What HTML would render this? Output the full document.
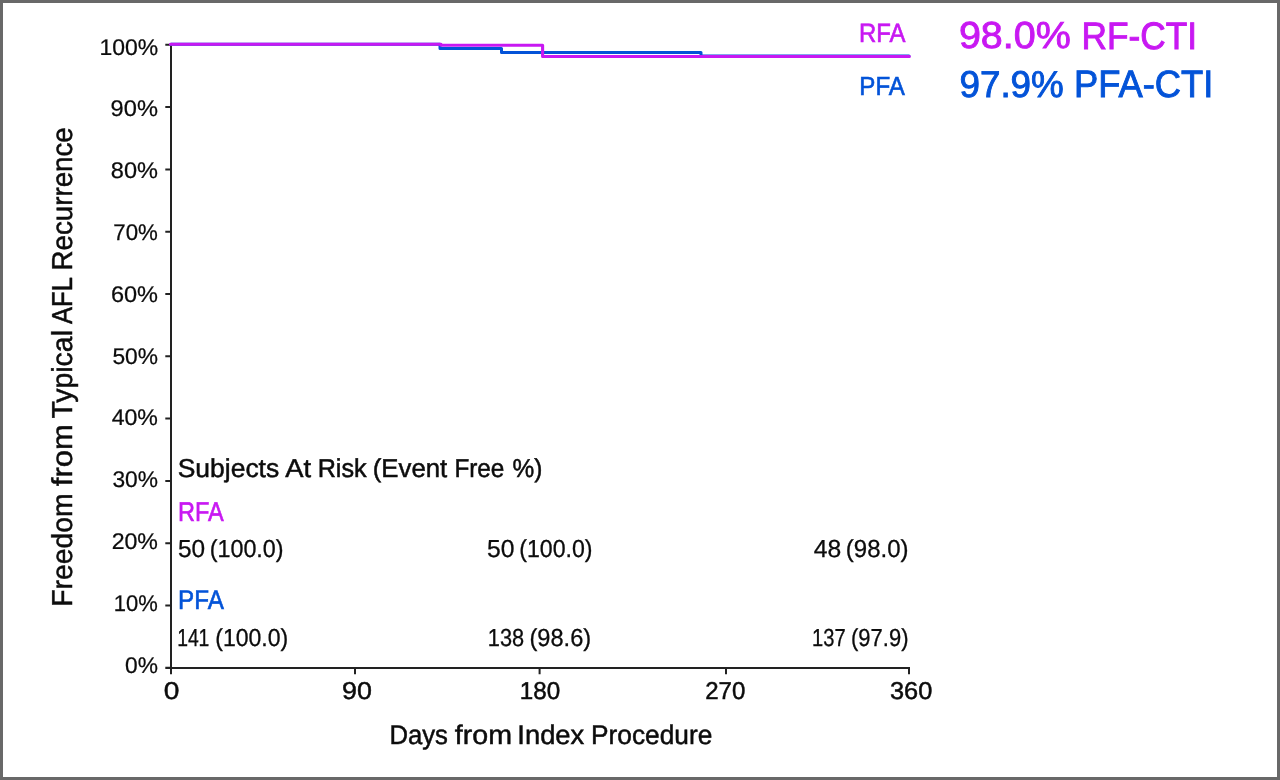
<!DOCTYPE html>
<html><head><meta charset="utf-8"><title>Freedom from Typical AFL Recurrence</title>
<style>
html,body{margin:0;padding:0;background:#fff;}
body{width:1280px;height:780px;overflow:hidden;position:relative;font-family:"Liberation Sans", sans-serif;}
.frame{position:absolute;left:0;top:0;width:1274px;height:774px;border:3px solid #686868;background:#fff;}
svg{position:absolute;left:0;top:0;will-change:transform;}
</style></head><body>
<div class="frame"></div>
<svg width="1280" height="780" viewBox="0 0 1280 780" font-family="Liberation Sans" font-size="100" text-rendering="geometricPrecision">
<path d="M171 43.5V674.2M165.3 668H909V674.2M165.3 44.80H171M165.3 107.10H171M165.3 169.40H171M165.3 231.70H171M165.3 294.00H171M165.3 356.30H171M165.3 418.60H171M165.3 480.90H171M165.3 543.20H171M165.3 605.50H171M165.3 667.80H171M171.00 668V674.2M355.00 668V674.2M539.60 668V674.2M726.00 668V674.2" fill="none" stroke="#222222" stroke-width="2"/>
<path d="M171 44.2H440V48.6H501.5V52.4H701V56.1H909" fill="none" stroke="#0353D8" stroke-width="3.0" stroke-linejoin="round" stroke-linecap="round"/>
<path d="M170.5 44.2H441V45.2H542.6V56.5H909.3" fill="none" stroke="#C818F2" stroke-width="3.1" stroke-linejoin="round" stroke-linecap="round"/>
<text transform="translate(99.42 54.67) scale(0.2293 0.2268)" fill="#0c0c0c" stroke="#0c0c0c" stroke-width="1.10">100%</text>
<text transform="translate(110.62 116.47) scale(0.2365 0.2268)" fill="#0c0c0c" stroke="#0c0c0c" stroke-width="1.08">90%</text>
<text transform="translate(110.86 178.27) scale(0.2352 0.2268)" fill="#0c0c0c" stroke="#0c0c0c" stroke-width="1.08">80%</text>
<text transform="translate(113.29 240.07) scale(0.2229 0.2268)" fill="#0c0c0c" stroke="#0c0c0c" stroke-width="1.11">70%</text>
<text transform="translate(110.93 301.87) scale(0.2349 0.2268)" fill="#0c0c0c" stroke="#0c0c0c" stroke-width="1.08">60%</text>
<text transform="translate(112.39 363.67) scale(0.2275 0.2268)" fill="#0c0c0c" stroke="#0c0c0c" stroke-width="1.10">50%</text>
<text transform="translate(111.64 425.47) scale(0.2313 0.2268)" fill="#0c0c0c" stroke="#0c0c0c" stroke-width="1.09">40%</text>
<text transform="translate(112.39 487.27) scale(0.2275 0.2268)" fill="#0c0c0c" stroke="#0c0c0c" stroke-width="1.10">30%</text>
<text transform="translate(111.64 549.07) scale(0.2312 0.2268)" fill="#0c0c0c" stroke="#0c0c0c" stroke-width="1.09">20%</text>
<text transform="translate(113.84 610.87) scale(0.2201 0.2268)" fill="#0c0c0c" stroke="#0c0c0c" stroke-width="1.12">10%</text>
<text transform="translate(125.09 672.67) scale(0.2277 0.2268)" fill="#0c0c0c" stroke="#0c0c0c" stroke-width="1.10">0%</text>
<text transform="translate(163.68 699.16) scale(0.2812 0.2437)" fill="#0c0c0c" stroke="#0c0c0c" stroke-width="1.91">0</text>
<text transform="translate(342.06 699.16) scale(0.2686 0.2437)" fill="#0c0c0c" stroke="#0c0c0c" stroke-width="1.95">90</text>
<text transform="translate(519.86 699.16) scale(0.2419 0.2437)" fill="#0c0c0c" stroke="#0c0c0c" stroke-width="2.06">180</text>
<text transform="translate(705.20 699.16) scale(0.2399 0.2437)" fill="#0c0c0c" stroke="#0c0c0c" stroke-width="2.07">270</text>
<text transform="translate(889.98 699.16) scale(0.2541 0.2437)" fill="#0c0c0c" stroke="#0c0c0c" stroke-width="2.01">360</text>
<text transform="translate(389.45 743.75) scale(0.2565 0.2698)" fill="#0c0c0c" stroke="#0c0c0c" stroke-width="1.90">Days</text>
<text transform="translate(454.71 743.75) scale(0.2865 0.2698)" fill="#0c0c0c" stroke="#0c0c0c" stroke-width="1.80">from</text>
<text transform="translate(517.34 743.75) scale(0.2733 0.2698)" fill="#0c0c0c" stroke="#0c0c0c" stroke-width="1.84">Index</text>
<text transform="translate(590.99 743.75) scale(0.2631 0.2698)" fill="#0c0c0c" stroke="#0c0c0c" stroke-width="1.88">Procedure</text>
<text transform="translate(177.68 476.60) scale(0.2647 0.2590)" fill="#0c0c0c" stroke="#0c0c0c" stroke-width="1.91">Subjects</text>
<text transform="translate(285.30 476.60) scale(0.2734 0.2590)" fill="#0c0c0c" stroke="#0c0c0c" stroke-width="1.88">At</text>
<text transform="translate(317.69 476.60) scale(0.2516 0.2590)" fill="#0c0c0c" stroke="#0c0c0c" stroke-width="1.96">Risk</text>
<text transform="translate(372.75 476.60) scale(0.2578 0.2590)" fill="#0c0c0c" stroke="#0c0c0c" stroke-width="1.94">(Event</text>
<text transform="translate(454.46 476.60) scale(0.2427 0.2590)" fill="#0c0c0c" stroke="#0c0c0c" stroke-width="1.99">Free</text>
<text transform="translate(512.42 476.60) scale(0.2442 0.2590)" fill="#0c0c0c" stroke="#0c0c0c" stroke-width="1.99">%)</text>
<text transform="translate(177.92 521.10) scale(0.2355 0.2705)" fill="#C818F2" stroke="#C818F2" stroke-width="2.37">RFA</text>
<text transform="translate(178.06 609.00) scale(0.2420 0.2691)" fill="#0353D8" stroke="#0353D8" stroke-width="2.35">PFA</text>
<text transform="translate(177.93 557.15) scale(0.2437 0.2465)" fill="#0c0c0c" stroke="#0c0c0c" stroke-width="1.22">50</text>
<text transform="translate(209.70 557.15) scale(0.2331 0.2465)" fill="#0c0c0c" stroke="#0c0c0c" stroke-width="1.25">(100.0)</text>
<text transform="translate(487.11 557.15) scale(0.2466 0.2465)" fill="#0c0c0c" stroke="#0c0c0c" stroke-width="1.22">50</text>
<text transform="translate(519.21 557.15) scale(0.2315 0.2465)" fill="#0c0c0c" stroke="#0c0c0c" stroke-width="1.26">(100.0)</text>
<text transform="translate(813.71 557.15) scale(0.2467 0.2465)" fill="#0c0c0c" stroke="#0c0c0c" stroke-width="1.22">48</text>
<text transform="translate(845.76 557.15) scale(0.2406 0.2465)" fill="#0c0c0c" stroke="#0c0c0c" stroke-width="1.23">(98.0)</text>
<text transform="translate(177.16 645.95) scale(0.1929 0.2465)" fill="#0c0c0c" stroke="#0c0c0c" stroke-width="1.37">141</text>
<text transform="translate(215.22 645.95) scale(0.2302 0.2465)" fill="#0c0c0c" stroke="#0c0c0c" stroke-width="1.26">(100.0)</text>
<text transform="translate(487.85 645.95) scale(0.2182 0.2465)" fill="#0c0c0c" stroke="#0c0c0c" stroke-width="1.29">138</text>
<text transform="translate(529.38 645.95) scale(0.2365 0.2465)" fill="#0c0c0c" stroke="#0c0c0c" stroke-width="1.24">(98.6)</text>
<text transform="translate(812.09 645.95) scale(0.2013 0.2465)" fill="#0c0c0c" stroke="#0c0c0c" stroke-width="1.34">137</text>
<text transform="translate(850.98 645.95) scale(0.2201 0.2465)" fill="#0c0c0c" stroke="#0c0c0c" stroke-width="1.29">(97.9)</text>
<text transform="translate(858.99 41.80) scale(0.2392 0.2633)" fill="#C818F2" stroke="#C818F2" stroke-width="2.39">RFA</text>
<text transform="translate(859.37 94.90) scale(0.2409 0.2619)" fill="#0353D8" stroke="#0353D8" stroke-width="2.39">PFA</text>
<text transform="translate(958.93 48.43) scale(0.3945 0.3746)" fill="#C818F2" stroke="#C818F2" stroke-width="2.34">98.0%</text>
<text transform="translate(1081.58 48.80) scale(0.3527 0.3827)" fill="#C818F2" stroke="#C818F2" stroke-width="2.45">RF-CTI</text>
<text transform="translate(959.46 97.03) scale(0.3680 0.3732)" fill="#0353D8" stroke="#0353D8" stroke-width="2.43">97.9%</text>
<text transform="translate(1073.99 97.40) scale(0.3634 0.3813)" fill="#0353D8" stroke="#0353D8" stroke-width="2.42">PFA-CTI</text>
<text transform="translate(71.90 606.87) rotate(-90) scale(0.2834 0.2878)" fill="#0c0c0c" stroke="#0c0c0c" stroke-width="1.75">Freedom</text>
<text transform="translate(71.90 486.21) rotate(-90) scale(0.3104 0.2878)" fill="#0c0c0c" stroke="#0c0c0c" stroke-width="1.67">from</text>
<text transform="translate(71.90 418.57) rotate(-90) scale(0.2845 0.2878)" fill="#0c0c0c" stroke="#0c0c0c" stroke-width="1.75">Typical</text>
<text transform="translate(71.90 324.10) rotate(-90) scale(0.2561 0.2878)" fill="#0c0c0c" stroke="#0c0c0c" stroke-width="1.84">AFL</text>
<text transform="translate(71.90 270.42) rotate(-90) scale(0.2770 0.2878)" fill="#0c0c0c" stroke="#0c0c0c" stroke-width="1.77">Recurrence</text>
</svg>
</body></html>
